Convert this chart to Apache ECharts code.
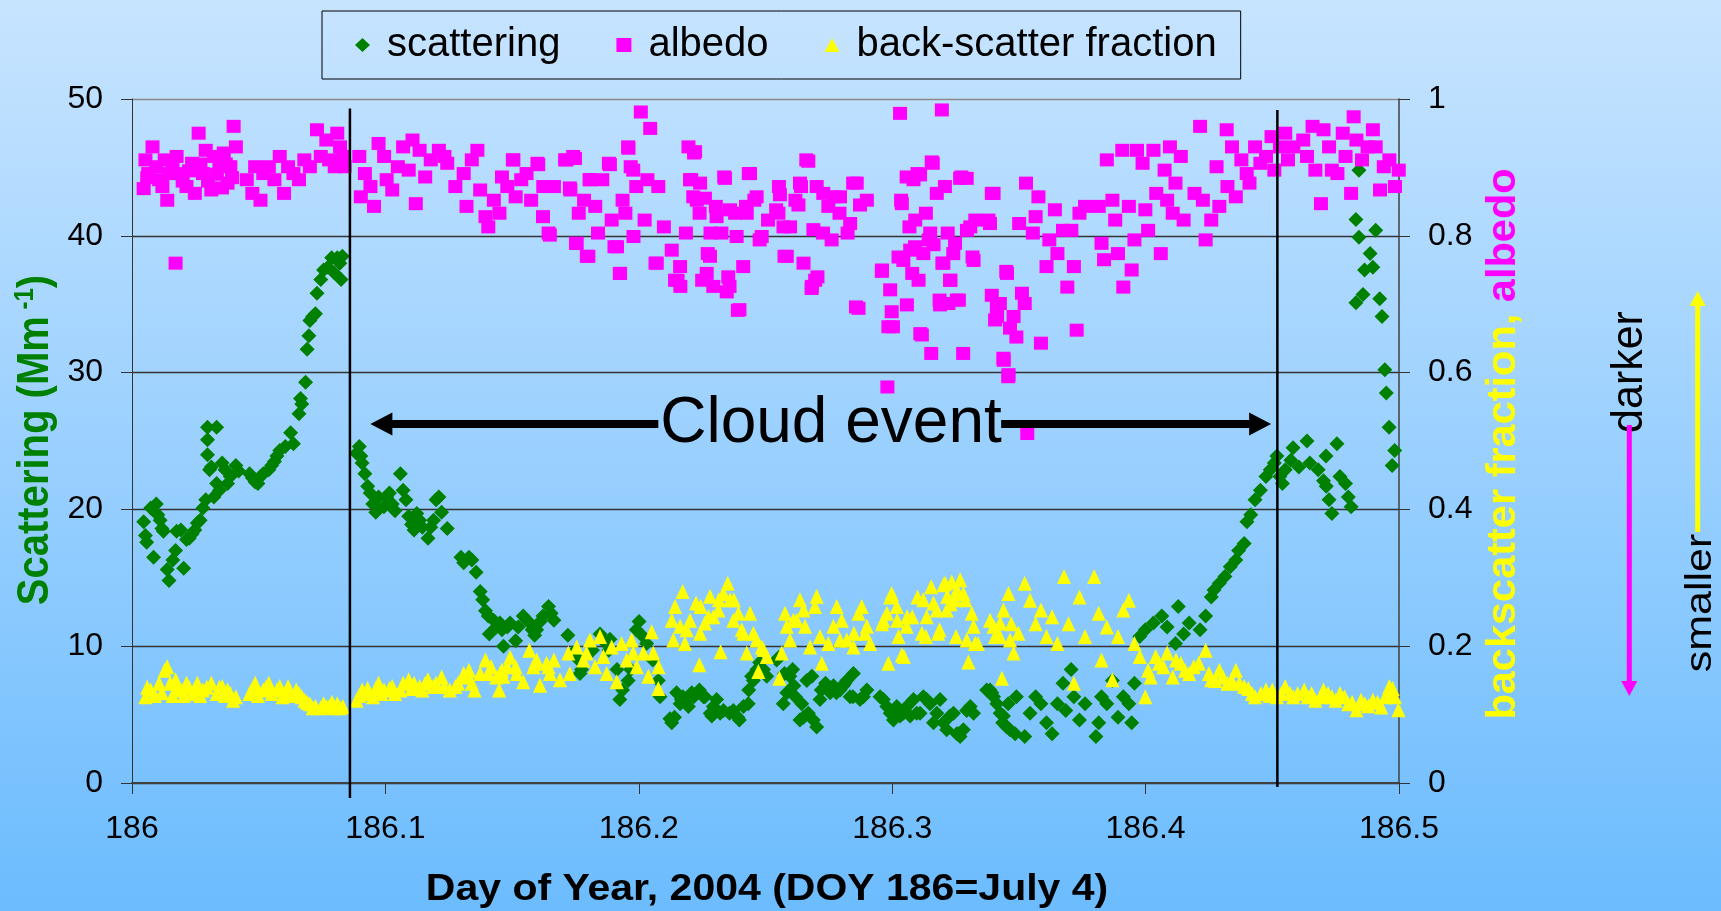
<!DOCTYPE html>
<html><head><meta charset="utf-8">
<script src="https://cdn.jsdelivr.net/npm/echarts@6.0.0/dist/echarts.min.js"></script>
<style>html,body{margin:0;padding:0;background:#9fd0ff}#c{width:1721px;height:911px}</style>
</head><body><div id="c"></div>
<script>
// ---------- data ----------
const xTickLabels = ['186', '186.1', '186.2', '186.3', '186.4', '186.5'];
const leftTickLabels = ['0', '10', '20', '30', '40', '50'];
const rightTickLabels = ['0', '0.2', '0.4', '0.6', '0.8', '1'];
const seriesNames = ['scattering', 'albedo', 'back-scatter fraction'];

// scattering (Mm-1), left axis: [day of year, value]
const scattering = [
[186.0046,19.1],[186.0053,18.1],[186.0058,17.6],[186.0074,20.1],[186.0085,16.5],[186.0096,20.4],[186.0102,19.6],[186.0111,19.2],[186.0118,18.6],[186.0124,18.4],[186.0139,15.6],[186.0146,14.8],[186.0161,16.3],[186.0172,17.0],[186.0176,18.4],[186.0193,18.5],[186.0204,15.7],[186.0215,17.8],[186.0226,17.9],[186.0237,18.2],[186.0248,18.5],[186.0258,19.0],[186.0269,19.2],[186.0280,20.1],[186.0291,20.7],[186.0298,24.0],[186.0298,25.1],[186.0298,26.0],[186.0306,22.9],[186.0313,23.1],[186.0323,20.9],[186.0334,21.9],[186.0334,26.0],[186.0345,21.4],[186.0356,23.4],[186.0367,22.9],[186.0377,21.9],[186.0388,22.4],[186.0410,23.2],[186.0421,22.8],[186.0464,22.6],[186.0475,22.3],[186.0486,22.0],[186.0497,21.9],[186.0507,22.4],[186.0518,22.6],[186.0540,22.9],[186.0551,23.2],[186.0562,23.5],[186.0572,23.9],[186.0583,24.3],[186.0605,24.6],[186.0626,25.6],[186.0637,24.8],[186.0659,27.0],[186.0665,28.1],[186.0670,27.7],[186.0685,29.3],[186.0691,31.7],[186.0698,32.7],[186.0702,33.8],[186.0713,34.1],[186.0724,34.3],[186.0730,35.8],[186.0745,36.8],[186.0756,37.5],[186.0773,37.7],[186.0788,38.4],[186.0798,37.3],[186.0810,38.4],[186.0820,38.0],[186.0825,36.8],[186.0830,38.5],
[186.0886,24.1],[186.0897,24.6],[186.0903,23.9],[186.0908,23.4],[186.0919,22.6],[186.0930,21.7],[186.0940,21.2],[186.0950,20.4],[186.0962,19.8],[186.0973,20.9],[186.0994,20.2],[186.1005,20.9],[186.1016,21.2],[186.1027,20.4],[186.1038,19.9],[186.1059,22.6],[186.1070,21.4],[186.1081,20.7],[186.1092,19.5],[186.1103,18.9],[186.1113,18.5],[186.1124,19.7],[186.1135,19.2],[186.1146,18.7],[186.1168,17.9],[186.1179,18.7],[186.1190,19.2],[186.1200,20.7],[186.1211,20.9],[186.1222,19.8],[186.1244,18.6],[186.1298,16.5],[186.1309,16.1],[186.1330,16.5],[186.1341,16.3],[186.1358,15.4],[186.1374,14.0],[186.1384,13.4],[186.1395,12.6],[186.1406,12.2],[186.1410,10.9],[186.1427,11.9],[186.1438,11.4],[186.1452,11.7],[186.1460,11.2],[186.1466,10.0],[186.1481,11.4],[186.1492,11.7],[186.1514,10.4],[186.1524,11.4],[186.1544,12.2],[186.1557,11.9],[186.1570,11.7],[186.1579,11.2],[186.1589,10.8],[186.1597,11.2],[186.1611,11.8],[186.1622,12.2],[186.1644,12.9],[186.1654,12.4],[186.1665,11.9],[186.1720,10.8],[186.1741,9.5],[186.1763,9.0],[186.1768,8.0],[186.1774,8.3],[186.1817,9.7],[186.1847,10.9],[186.1860,10.4],[186.1882,9.7],[186.1886,10.5],[186.1914,8.3],[186.1925,6.1],[186.1936,6.8],[186.1958,7.5],[186.1968,8.3],[186.1990,11.2],[186.2001,11.8],[186.2012,10.8],[186.2031,10.2],[186.2055,9.0],[186.2077,7.5],[186.2084,6.3],
[186.2123,4.7],[186.2130,4.4],[186.2141,4.8],[186.2149,6.6],[186.2163,5.8],[186.2168,6.1],[186.2174,6.3],[186.2189,6.1],[186.2196,5.6],[186.2209,6.6],[186.2217,6.3],[186.2239,6.8],[186.2255,6.3],[186.2261,6.3],[186.2282,5.1],[186.2288,4.9],[186.2294,5.6],[186.2307,6.1],[186.2321,5.1],[186.2334,5.3],[186.2358,5.1],[186.2373,5.3],[186.2391,4.8],[186.2397,4.6],[186.2413,5.6],[186.2432,5.8],[186.2434,6.8],[186.2445,7.8],[186.2452,7.5],[186.2466,8.3],[186.2477,8.8],[186.2492,8.3],[186.2505,7.8],[186.2544,9.0],[186.2553,9.2],[186.2570,5.8],[186.2575,8.0],[186.2584,6.6],[186.2596,7.8],[186.2607,8.3],[186.2612,7.1],[186.2618,6.3],[186.2636,4.6],[186.2643,5.8],[186.2650,4.8],[186.2663,7.5],[186.2669,5.1],[186.2683,7.8],[186.2689,4.6],[186.2702,4.1],[186.2715,6.1],[186.2720,6.8],[186.2737,7.3],[186.2748,6.8],[186.2755,6.6],[186.2768,7.1],[186.2780,6.6],[186.2794,6.8],[186.2807,7.1],[186.2813,7.3],[186.2821,7.5],[186.2834,6.3],[186.2845,6.3],[186.2847,8.0],[186.2873,6.1],[186.2886,6.3],[186.2900,6.8],
[186.2952,6.3],[186.2965,6.1],[186.2979,5.6],[186.2992,5.1],[186.3005,4.6],[186.3018,5.6],[186.3031,4.9],[186.3044,5.1],[186.3058,5.6],[186.3071,4.9],[186.3084,6.1],[186.3097,5.1],[186.3110,5.1],[186.3123,6.3],[186.3136,6.1],[186.3149,5.8],[186.3163,4.4],[186.3176,5.1],[186.3189,6.1],[186.3202,4.4],[186.3215,3.9],[186.3228,4.9],[186.3242,5.1],[186.3255,3.6],[186.3261,3.6],[186.3268,3.4],[186.3281,3.9],[186.3294,5.3],[186.3308,5.6],[186.3321,5.1],[186.3373,6.8],[186.3386,6.8],[186.3393,6.6],[186.3400,6.3],[186.3413,5.8],[186.3426,5.1],[186.3436,4.4],[186.3439,4.9],[186.3452,4.1],[186.3458,5.8],[186.3465,3.9],[186.3485,3.6],[186.3490,6.3],
[186.3523,3.4],[186.3544,5.1],[186.3566,6.3],[186.3587,5.8],[186.3609,4.4],[186.3631,3.6],[186.3652,5.8],[186.3674,7.3],[186.3685,5.3],[186.3706,8.3],[186.3717,6.3],[186.3739,4.6],[186.3761,5.8],[186.3804,3.4],[186.3815,4.4],[186.3826,6.3],[186.3847,5.8],[186.3869,7.5],[186.3891,4.8],[186.3912,6.3],[186.3934,5.8],[186.3945,4.4],[186.3956,7.3],[186.3977,10.7],[186.3999,11.2],[186.4031,11.7],[186.4064,12.2],[186.4085,11.4],[186.4118,10.2],[186.4129,12.9],[186.4150,10.9],[186.4172,11.7],[186.4215,11.2],[186.4237,12.2],[186.4259,13.6],[186.4270,14.1],[186.4291,14.6],[186.4313,15.1],[186.4334,15.8],[186.4356,16.3],[186.4367,17.0],[186.4389,17.5],[186.4400,19.1],[186.4415,19.6],[186.4432,20.7],[186.4453,21.4],[186.4475,22.4],[186.4492,22.9],[186.4508,23.4],[186.4518,23.9],[186.4530,22.4],[186.4540,21.9],[186.4551,22.9],[186.4573,23.6],[186.4582,24.5],[186.4605,23.1],[186.4637,25.0],[186.4648,23.4],[186.4681,22.9],[186.4702,22.1],[186.4712,23.9],[186.4713,21.7],[186.4724,20.7],[186.4735,19.7],[186.4755,24.8],[186.4767,22.4],[186.4789,21.9],[186.4800,20.9],[186.4811,20.2],[186.4830,41.2],[186.4830,35.1],[186.4842,44.8],[186.4842,39.9],[186.4858,35.7],[186.4864,37.5],[186.4886,38.7],[186.4897,37.7],[186.4908,40.4],[186.4924,35.4],[186.4933,34.1],[186.4944,30.2],[186.4950,28.5],[186.4961,26.0],[186.4973,23.2],[186.4983,24.3]
];

// albedo, right axis
const albedo = [
[186.0046,0.869],[186.0053,0.911],[186.0060,0.885],[186.0064,0.891],[186.0081,0.930],[186.0096,0.901],[186.0107,0.882],[186.0120,0.872],[186.0129,0.911],[186.0139,0.852],[186.0150,0.891],[186.0160,0.905],[186.0172,0.760],[186.0176,0.916],[186.0193,0.891],[186.0200,0.880],[186.0215,0.872],[186.0225,0.895],[186.0237,0.906],[186.0248,0.862],[186.0263,0.950],[186.0270,0.905],[186.0280,0.891],[186.0291,0.925],[186.0300,0.880],[186.0313,0.867],[186.0323,0.916],[186.0335,0.890],[186.0345,0.901],[186.0355,0.870],[186.0362,0.921],[186.0370,0.905],[186.0377,0.877],[186.0388,0.901],[186.0395,0.885],[186.0401,0.960],[186.0410,0.930],[186.0453,0.882],[186.0475,0.862],[186.0486,0.901],[186.0507,0.852],[186.0518,0.891],[186.0540,0.901],[186.0562,0.882],[186.0583,0.916],[186.0600,0.862],[186.0616,0.901],[186.0637,0.891],[186.0659,0.882],[186.0680,0.911],[186.0702,0.901],[186.0730,0.955],[186.0745,0.916],[186.0767,0.940],[186.0778,0.911],[186.0800,0.901],[186.0810,0.950],[186.0821,0.930],[186.0832,0.916],[186.0839,0.901],
[186.0897,0.916],[186.0903,0.857],[186.0919,0.891],[186.0941,0.872],[186.0955,0.843],[186.0973,0.935],[186.0995,0.916],[186.1005,0.882],[186.1027,0.867],[186.1049,0.901],[186.1070,0.930],[186.1092,0.896],[186.1107,0.940],[186.1120,0.847],[186.1135,0.925],[186.1157,0.886],[186.1179,0.911],[186.1211,0.925],[186.1233,0.916],[186.1244,0.906],[186.1276,0.872],[186.1309,0.891],[186.1320,0.843],[186.1341,0.911],[186.1363,0.925],[186.1374,0.867],[186.1395,0.828],[186.1406,0.813],[186.1428,0.852],[186.1450,0.833],[186.1460,0.886],[186.1481,0.872],[186.1503,0.911],[186.1505,0.911],[186.1514,0.857],[186.1536,0.882],[186.1557,0.891],[186.1575,0.852],[186.1600,0.906],[186.1603,0.904],[186.1622,0.828],[186.1623,0.872],[186.1644,0.804],[186.1649,0.801],[186.1665,0.872],[186.1709,0.911],[186.1715,0.911],[186.1728,0.870],[186.1730,0.867],[186.1741,0.916],[186.1748,0.913],[186.1752,0.789],[186.1755,0.789],[186.1763,0.833],[186.1784,0.852],[186.1795,0.770],[186.1801,0.770],[186.1806,0.882],[186.1807,0.882],[186.1828,0.843],[186.1839,0.804],[186.1856,0.882],[186.1882,0.906],[186.1886,0.904],[186.1893,0.823],[186.1904,0.784],[186.1914,0.784],[186.1925,0.745],[186.1926,0.745],[186.1936,0.852],[186.1947,0.833],[186.1958,0.930],[186.1959,0.928],[186.1968,0.901],[186.1978,0.896],[186.1979,0.799],[186.1990,0.872],[186.2008,0.981],[186.2023,0.823],[186.2034,0.882],[186.2045,0.957],[186.2066,0.760],[186.2071,0.760],[186.2077,0.872],[186.2099,0.813],[186.2130,0.779],[186.2143,0.735],[186.2153,0.735],[186.2163,0.755],[186.2164,0.726],[186.2186,0.804],[186.2196,0.930],[186.2202,0.882],[186.2207,0.882],[186.2215,0.857],[186.2218,0.921],[186.2222,0.923],[186.2229,0.852],[186.2240,0.833],[186.2242,0.877],[186.2250,0.735],[186.2261,0.855],[186.2268,0.745],[186.2272,0.774],[186.2281,0.770],[186.2283,0.804],[186.2294,0.726],[186.2304,0.843],[186.2307,0.828],[186.2326,0.804],[186.2337,0.886],[186.2340,0.884],[186.2347,0.718],[186.2353,0.740],[186.2358,0.726],[186.2360,0.838],[186.2380,0.833],[186.2386,0.799],[186.2391,0.691],[186.2397,0.692],[186.2412,0.755],[186.2423,0.843],[186.2426,0.833],[186.2434,0.891],[186.2439,0.891],[186.2456,0.852],[186.2465,0.857],[186.2477,0.794],[186.2485,0.799],[186.2510,0.823],[186.2542,0.838],[186.2551,0.833],[186.2553,0.872],[186.2557,0.860],[186.2571,0.813],[186.2575,0.770],[186.2584,0.770],[186.2597,0.813],[186.2618,0.852],[186.2630,0.845],[186.2636,0.877],[186.2640,0.872],[186.2650,0.760],[186.2661,0.911],[186.2669,0.909],[186.2682,0.723],[186.2683,0.726],[186.2689,0.809],[186.2696,0.735],[186.2702,0.872],[186.2705,0.740],[186.2727,0.804],[186.2728,0.862],[186.2748,0.843],[186.2761,0.794],[186.2770,0.857],[186.2792,0.833],[186.2794,0.857],[186.2824,0.804],[186.2834,0.818],[186.2846,0.877],[186.2857,0.696],[186.2860,0.877],[186.2867,0.694],[186.2873,0.845],[186.2900,0.852],
[186.2959,0.748],[186.2960,0.750],[186.2981,0.579],[186.2985,0.667],[186.2992,0.721],[186.2998,0.689],[186.3003,0.667],[186.3025,0.769],[186.3031,0.979],[186.3035,0.852],[186.3038,0.847],[186.3044,0.764],[186.3057,0.886],[186.3058,0.699],[186.3068,0.813],[186.3071,0.779],[186.3079,0.745],[186.3084,0.882],[186.3090,0.784],[186.3091,0.823],[186.3100,0.891],[186.3104,0.735],[186.3110,0.889],[186.3111,0.657],[186.3117,0.655],[186.3123,0.774],[186.3133,0.833],[186.3144,0.794],[186.3150,0.804],[186.3154,0.628],[186.3156,0.908],[186.3160,0.906],[186.3163,0.787],[186.3176,0.862],[186.3187,0.706],[186.3189,0.699],[186.3196,0.984],[186.3198,0.760],[186.3202,0.760],[186.3208,0.872],[186.3219,0.804],[186.3222,0.701],[186.3228,0.735],[186.3230,0.735],[186.3241,0.774],[186.3248,0.789],[186.3255,0.706],[186.3263,0.706],[186.3268,0.884],[186.3273,0.886],[186.3280,0.628],[186.3294,0.884],[186.3295,0.808],[186.3308,0.813],[186.3317,0.769],[186.3321,0.764],[186.3328,0.823],[186.3380,0.823],[186.3386,0.818],[186.3393,0.862],[186.3393,0.713],[186.3400,0.862],[186.3406,0.677],[186.3413,0.696],[186.3414,0.682],[186.3425,0.701],[186.3439,0.621],[186.3440,0.618],[186.3450,0.748],[186.3453,0.745],[186.3458,0.594],[186.3459,0.597],[186.3465,0.665],[186.3479,0.682],[186.3490,0.652],[186.3501,0.818],[186.3512,0.716],[186.3523,0.701],[186.3528,0.877],[186.3533,0.511],[186.3555,0.804],[186.3566,0.828],[186.3577,0.857],[186.3587,0.643],[186.3609,0.755],[186.3620,0.794],[186.3642,0.838],[186.3652,0.774],[186.3674,0.808],[186.3691,0.725],[186.3707,0.808],[186.3717,0.755],[186.3728,0.662],[186.3739,0.833],[186.3761,0.843],[186.3815,0.843],[186.3826,0.789],[186.3836,0.765],[186.3847,0.911],[186.3869,0.852],[186.3880,0.823],[186.3891,0.774],[186.3908,0.925],[186.3912,0.725],[186.3934,0.843],[186.3945,0.750],[186.3956,0.794],[186.3966,0.925],[186.3988,0.906],[186.3999,0.838],[186.4010,0.808],[186.4031,0.925],[186.4042,0.862],[186.4060,0.774],[186.4075,0.896],[186.4085,0.852],[186.4096,0.930],[186.4107,0.833],[186.4118,0.877],[186.4139,0.916],[186.4150,0.823],[186.4193,0.862],[186.4215,0.960],[186.4226,0.852],[186.4237,0.794],[186.4259,0.823],[186.4280,0.901],[186.4291,0.843],[186.4320,0.955],[186.4323,0.872],[186.4341,0.930],[186.4356,0.857],[186.4378,0.911],[186.4399,0.891],[186.4410,0.877],[186.4432,0.930],[186.4453,0.906],[186.4475,0.916],[186.4497,0.945],[186.4508,0.896],[186.4530,0.930],[186.4551,0.950],[186.4562,0.911],[186.4583,0.930],[186.4622,0.940],[186.4637,0.916],[186.4659,0.960],[186.4670,0.896],[186.4692,0.847],[186.4702,0.955],[186.4724,0.930],[186.4735,0.896],[186.4757,0.891],[186.4778,0.950],[186.4789,0.916],[186.4811,0.862],[186.4821,0.974],[186.4832,0.940],[186.4854,0.911],[186.4876,0.930],[186.4897,0.955],[186.4908,0.930],[186.4925,0.867],[186.4940,0.901],[186.4962,0.911],[186.4984,0.872],[186.4999,0.896]
];

// back-scatter fraction, right axis
const backscatter = [
[186.0053,0.126],[186.0060,0.140],[186.0074,0.136],[186.0090,0.128],[186.0107,0.146],[186.0118,0.132],[186.0129,0.165],[186.0139,0.170],[186.0150,0.146],[186.0160,0.128],[186.0172,0.151],[186.0183,0.140],[186.0193,0.136],[186.0205,0.128],[186.0215,0.146],[186.0225,0.140],[186.0237,0.131],[186.0248,0.138],[186.0258,0.146],[186.0269,0.128],[186.0280,0.136],[186.0295,0.140],[186.0313,0.146],[186.0334,0.131],[186.0345,0.140],[186.0356,0.141],[186.0367,0.128],[186.0377,0.136],[186.0388,0.131],[186.0399,0.121],[186.0410,0.126],[186.0464,0.131],[186.0475,0.138],[186.0486,0.146],[186.0497,0.128],[186.0518,0.136],[186.0529,0.140],[186.0540,0.146],[186.0551,0.131],[186.0572,0.136],[186.0583,0.141],[186.0594,0.126],[186.0605,0.131],[186.0616,0.141],[186.0627,0.128],[186.0648,0.136],[186.0659,0.131],[186.0670,0.126],[186.0681,0.121],[186.0691,0.118],[186.0702,0.116],[186.0713,0.110],[186.0724,0.112],[186.0745,0.110],[186.0756,0.116],[186.0767,0.112],[186.0778,0.112],[186.0789,0.118],[186.0799,0.110],[186.0810,0.116],[186.0821,0.110],[186.0832,0.112],
[186.0886,0.121],[186.0897,0.128],[186.0908,0.136],[186.0919,0.131],[186.0930,0.138],[186.0951,0.126],[186.0962,0.138],[186.0973,0.146],[186.0984,0.131],[186.0995,0.136],[186.1016,0.138],[186.1027,0.141],[186.1038,0.131],[186.1059,0.136],[186.1070,0.146],[186.1092,0.151],[186.1103,0.138],[186.1113,0.146],[186.1135,0.141],[186.1146,0.136],[186.1157,0.146],[186.1168,0.151],[186.1189,0.141],[186.1200,0.146],[186.1222,0.155],[186.1233,0.141],[186.1254,0.136],[186.1276,0.141],[186.1287,0.146],[186.1309,0.160],[186.1320,0.155],[186.1330,0.165],[186.1341,0.146],[186.1352,0.136],[186.1374,0.160],[186.1395,0.180],[186.1406,0.160],[186.1417,0.170],[186.1438,0.155],[186.1449,0.136],[186.1452,0.160],[186.1460,0.165],[186.1465,0.156],[186.1481,0.170],[186.1492,0.184],[186.1514,0.170],[186.1518,0.160],[186.1544,0.148],[186.1568,0.194],[186.1584,0.170],[186.1589,0.175],[186.1597,0.180],[186.1610,0.143],[186.1636,0.175],[186.1644,0.170],[186.1649,0.160],[186.1665,0.180],[186.1689,0.151],[186.1722,0.190],[186.1728,0.160],[186.1755,0.199],[186.1781,0.180],[186.1794,0.190],[186.1807,0.209],[186.1827,0.170],[186.1847,0.214],[186.1860,0.185],[186.1873,0.160],[186.1893,0.199],[186.1913,0.148],[186.1932,0.204],[186.1952,0.180],[186.1972,0.209],[186.1978,0.190],[186.1992,0.170],[186.2018,0.190],[186.2038,0.156],[186.2051,0.221],[186.2057,0.190],[186.2077,0.138],[186.2078,0.170],
[186.2130,0.238],[186.2136,0.209],[186.2143,0.258],[186.2163,0.229],[186.2173,0.280],[186.2182,0.204],[186.2189,0.224],[186.2202,0.238],[186.2226,0.263],[186.2239,0.173],[186.2242,0.219],[186.2244,0.258],[186.2261,0.234],[186.2275,0.243],[186.2281,0.273],[186.2294,0.243],[186.2314,0.253],[186.2316,0.268],[186.2323,0.192],[186.2334,0.277],[186.2351,0.292],[186.2360,0.268],[186.2373,0.238],[186.2375,0.268],[186.2393,0.248],[186.2406,0.224],[186.2413,0.219],[186.2426,0.190],[186.2439,0.248],[186.2452,0.219],[186.2465,0.209],[186.2472,0.163],[186.2485,0.199],[186.2492,0.195],[186.2505,0.185],[186.2555,0.153],[186.2564,0.190],[186.2577,0.248],[186.2584,0.229],[186.2597,0.209],[186.2610,0.238],[186.2623,0.238],[186.2636,0.268],[186.2650,0.253],[186.2656,0.229],[186.2676,0.199],[186.2695,0.258],[186.2702,0.273],[186.2715,0.214],[186.2722,0.175],[186.2748,0.204],[186.2768,0.229],[186.2781,0.258],[186.2794,0.209],[186.2801,0.238],[186.2821,0.209],[186.2847,0.199],[186.2849,0.219],[186.2867,0.248],[186.2880,0.258],[186.2893,0.219],[186.2900,0.229],[186.2913,0.204],[186.2960,0.233],[186.2965,0.238],[186.2979,0.248],[186.2985,0.175],[186.2992,0.272],[186.2998,0.277],[186.3018,0.258],[186.3020,0.238],[186.3025,0.214],[186.3038,0.187],[186.3046,0.185],[186.3057,0.229],[186.3059,0.243],[186.3079,0.243],[186.3100,0.272],[186.3117,0.219],[186.3123,0.268],[186.3133,0.214],[186.3136,0.243],[186.3154,0.287],[186.3163,0.263],[186.3176,0.253],[186.3182,0.219],[186.3187,0.224],[186.3202,0.290],[186.3209,0.292],[186.3215,0.253],[186.3217,0.273],[186.3230,0.262],[186.3235,0.294],[186.3248,0.268],[186.3252,0.214],[186.3255,0.282],[186.3268,0.297],[186.3281,0.277],[186.3288,0.268],[186.3294,0.209],[186.3301,0.177],[186.3314,0.248],[186.3321,0.229],[186.3327,0.204],[186.3338,0.204],[186.3386,0.238],[186.3400,0.229],[186.3406,0.214],[186.3425,0.214],[186.3426,0.234],[186.3433,0.153],[186.3439,0.253],[186.3459,0.277],[186.3465,0.209],[186.3470,0.233],[186.3479,0.190],[186.3498,0.219],
[186.3523,0.292],[186.3544,0.267],[186.3566,0.233],[186.3587,0.253],[186.3609,0.214],[186.3631,0.243],[186.3652,0.204],[186.3678,0.302],[186.3696,0.233],[186.3717,0.146],[186.3739,0.272],[186.3761,0.214],[186.3797,0.302],[186.3815,0.248],[186.3826,0.180],[186.3847,0.228],[186.3869,0.151],[186.3891,0.214],[186.3912,0.253],[186.3934,0.267],[186.3956,0.204],[186.3977,0.185],[186.3999,0.126],[186.4010,0.165],[186.4020,0.155],[186.4040,0.185],[186.4053,0.175],[186.4070,0.170],[186.4085,0.190],[186.4107,0.155],[186.4120,0.180],[186.4139,0.175],[186.4155,0.165],[186.4172,0.160],[186.4190,0.170],[186.4210,0.175],[186.4237,0.194],[186.4250,0.160],[186.4259,0.151],[186.4275,0.150],[186.4291,0.165],[186.4305,0.155],[186.4323,0.146],[186.4340,0.150],[186.4356,0.165],[186.4370,0.146],[186.4389,0.141],[186.4405,0.138],[186.4420,0.131],[186.4432,0.126],[186.4455,0.131],[186.4475,0.136],[186.4490,0.128],[186.4500,0.136],[186.4518,0.126],[186.4535,0.131],[186.4551,0.141],[186.4570,0.131],[186.4583,0.126],[186.4600,0.131],[186.4626,0.136],[186.4640,0.126],[186.4655,0.131],[186.4670,0.121],[186.4690,0.126],[186.4702,0.136],[186.4720,0.131],[186.4735,0.126],[186.4750,0.121],[186.4767,0.131],[186.4785,0.126],[186.4800,0.116],[186.4815,0.118],[186.4832,0.107],[186.4850,0.121],[186.4865,0.116],[186.4880,0.113],[186.4897,0.121],[186.4915,0.118],[186.4930,0.111],[186.4945,0.126],[186.4955,0.131],[186.4962,0.141],[186.4975,0.138],[186.4984,0.126],[186.4998,0.107]
];

// annotations (day of year / scattering units)
const eventStart = [[186.086, -1.1], [186.086, 49.3]];
const eventEnd = [[186.452, -0.3], [186.452, 49.2]];
const arrowY = 26.25;
const arrowLeft = [186.0984, 186.2077];
const arrowRight = [186.3430, 186.4452];

// ---------- chart ----------
const FONT = "'Liberation Sans', Arial, Helvetica, sans-serif";
const chart = echarts.init(document.getElementById('c'), null, {renderer: 'canvas'});
const axisCommon = {
  axisLine: {show: true, lineStyle: {color: '#333', width: 1}},
  axisTick: {show: true, length: 11, lineStyle: {color: '#333', width: 1}},
  axisLabel: {fontSize: 32, color: '#000', fontFamily: FONT, margin: 29}
};
const option = {
  animation: false,
  backgroundColor: {type: 'linear', x: 0, y: 0, x2: 0, y2: 1,
    colorStops: [{offset: 0, color: '#C7E4FF'}, {offset: 1, color: '#6CBCFE'}]},
  textStyle: {fontFamily: FONT},
  grid: {left: 132, right: 322, top: 99, bottom: 128, containLabel: false, outerBoundsMode: 'none'},
  legend: {
    left: 322, top: 11, padding: [14, 24, 14, 33], itemGap: 56, itemWidth: 15, itemHeight: 14,
    borderColor: '#000', borderWidth: 1, borderRadius: 0,
    textStyle: {fontSize: 40, color: '#000', fontFamily: FONT, padding: [0, 0, 0, 12]},
    data: [{name: seriesNames[0], icon: 'diamond'}, {name: seriesNames[1], icon: 'rect'}, {name: seriesNames[2], icon: 'triangle'}]
  },
  xAxis: {
    type: 'value', min: 186, max: 186.5, interval: 0.1,
    axisLine: {show: true, onZero: false, lineStyle: {color: '#404040', width: 2}},
    axisTick: {show: true, length: 11, lineStyle: {color: '#333', width: 1}},
    axisLabel: {fontSize: 32, color: '#000', fontFamily: FONT, margin: 30, formatter: (v, i) => xTickLabels[i]},
    splitLine: {show: false}
  },
  yAxis: [
    Object.assign({}, axisCommon, {
      type: 'value', min: 0, max: 50, interval: 10, position: 'left',
      axisLabel: Object.assign({}, axisCommon.axisLabel, {formatter: (v, i) => leftTickLabels[i]}),
      splitLine: {show: true, lineStyle: {color: ['#333', '#333', '#333', '#333', '#333', '#8a8a8a'], width: 1.3}}
    }),
    Object.assign({}, axisCommon, {
      type: 'value', min: 0, max: 1, interval: 0.2, position: 'right',
      axisLine: {show: true, lineStyle: {color: '#404040', width: 1.5}},
      axisLabel: Object.assign({}, axisCommon.axisLabel, {formatter: (v, i) => rightTickLabels[i]}),
      splitLine: {show: false}
    })
  ],
  series: [
    {name: seriesNames[0], type: 'scatter', yAxisIndex: 0, data: scattering, symbol: 'diamond', symbolSize: [15, 15], itemStyle: {color: '#008000', opacity: 1}, z: 3},
    {name: seriesNames[1], type: 'scatter', yAxisIndex: 1, data: albedo, symbol: 'rect', symbolSize: [14, 13], itemStyle: {color: '#FF00FF', opacity: 1}, z: 3},
    {name: seriesNames[2], type: 'scatter', yAxisIndex: 1, data: backscatter, symbol: 'triangle', symbolSize: [14, 15], itemStyle: {color: '#FFFF00', opacity: 1}, z: 3},
    {type: 'line', yAxisIndex: 0, data: eventStart, symbol: 'none', clip: false, silent: true, color: '#000',
     lineStyle: {color: '#000', width: 2.5}, z: 5,
     markLine: {silent: true, animation: false, symbolSize: [23, 22], label: {show: false},
       lineStyle: {color: '#000', width: 8, type: 'solid'},
       data: [
         [{coord: [arrowLeft[0], arrowY], symbol: 'triangle'}, {coord: [arrowLeft[1], arrowY], symbol: 'none'}],
         [{coord: [arrowRight[0], arrowY], symbol: 'none'}, {coord: [arrowRight[1], arrowY], symbol: 'triangle'}]
       ]}},
    {type: 'line', yAxisIndex: 0, data: eventEnd, symbol: 'none', clip: false, silent: true, color: '#000',
     lineStyle: {color: '#000', width: 2.5}, z: 5}
  ],
  graphic: [
    {type: 'text', x: 831, y: 424, z: 10, style: {text: 'Cloud event', fontSize: 64, fontFamily: FONT, fill: '#000', align: 'center', verticalAlign: 'middle'}},
    {type: 'text', x: 767, y: 890, scaleX: 1.123, style: {text: 'Day of Year, 2004 (DOY 186=July 4)', fontSize: 36.5, fontWeight: 'bold', fontFamily: FONT, fill: '#000', align: 'center', verticalAlign: 'middle'}},
    {type: 'text', x: 36, y: 440, rotation: Math.PI / 2, scaleY: 1.12, style: {
      text: '{a|Scattering (Mm}{s| -1}{a|)}', align: 'center', verticalAlign: 'middle',
      rich: {a: {fontSize: 40, fontWeight: 'bold', fontFamily: FONT, fill: '#008000', lineHeight: 42},
             s: {fontSize: 24, fontWeight: 'bold', fontFamily: FONT, fill: '#008000', verticalAlign: 'top', lineHeight: 24}}}},
    {type: 'text', x: 1504, y: 444, rotation: Math.PI / 2, style: {
      text: '{y|backscatter fraction, }{m|albedo}', align: 'center', verticalAlign: 'middle',
      rich: {y: {fontSize: 41.5, fontWeight: 'bold', fontFamily: FONT, fill: '#FFFF00'},
             m: {fontSize: 41.5, fontWeight: 'bold', fontFamily: FONT, fill: '#FF00FF'}}}},
    {type: 'text', x: 1630, y: 372, rotation: Math.PI / 2, scaleY: 1.04, style: {text: 'darker', fontSize: 43, fontFamily: FONT, fill: '#000', align: 'center', verticalAlign: 'middle'}},
    {type: 'text', x: 1701, y: 603, rotation: Math.PI / 2, scaleY: 0.86, style: {text: 'smaller', fontSize: 43, fontFamily: FONT, fill: '#000', align: 'center', verticalAlign: 'middle'}},
    {type: 'line', shape: {x1: 1629.3, y1: 425, x2: 1629.3, y2: 683}, style: {stroke: '#FF00FF', lineWidth: 5}},
    {type: 'polygon', shape: {points: [[1621.3, 681], [1637.3, 681], [1629.3, 696]]}, style: {fill: '#FF00FF'}},
    {type: 'line', shape: {x1: 1697.7, y1: 532, x2: 1697.7, y2: 304}, style: {stroke: '#FFFF00', lineWidth: 5}},
    {type: 'polygon', shape: {points: [[1689.7, 306], [1705.7, 306], [1697.7, 291]]}, style: {fill: '#FFFF00'}}
  ]
};
chart.setOption(option);
</script>
</body></html>
